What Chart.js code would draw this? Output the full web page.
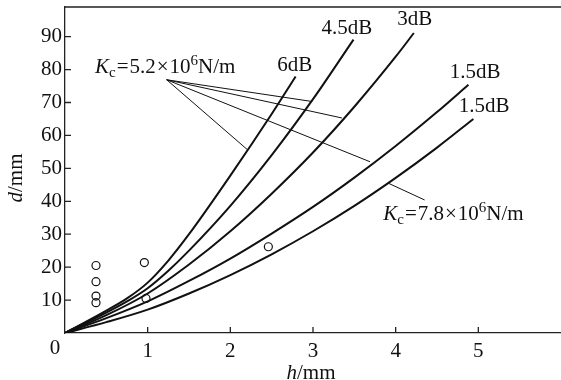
<!DOCTYPE html>
<html><head><meta charset="utf-8">
<script src="https://cdn.jsdelivr.net/npm/chart.js@4.4.1/dist/chart.umd.min.js"></script>
<style>html,body{margin:0;padding:0;background:#fff;}canvas{display:block;}</style>
</head><body>
<canvas id="c" width="561" height="380"></canvas>
<script>
const FONT = '"Liberation Serif", "Times New Roman", serif';

// ---- data (h in mm, d in mm) ----
const h6dB   = [0, 0.5, 0.75, 1, 1.25, 1.5, 2, 2.5, 2.79];
const d6dB   = [0, 6.8, 10.5, 15.3, 22.0, 30.0, 47.8, 66.5, 77.9];
const h45dB  = [0, 0.5, 0.75, 1, 1.25, 1.5, 2, 2.5, 3, 3.49];
const d45dB  = [0, 6.2, 9.6, 13.6, 18.9, 25.0, 38.6, 54.0, 71.0, 89.1];
const h3dB   = [0, 0.5, 1, 1.5, 2, 2.5, 3, 3.5, 4, 4.22];
const d3dB   = [0, 5.4, 12.0, 20.8, 30.9, 42.3, 54.8, 68.7, 83.9, 91.1];
const h15dBa = [0, 0.5, 1, 1.5, 2, 2.5, 3, 3.5, 4, 4.5, 4.88];
const d15dBa = [0, 4.5, 9.6, 15.8, 22.6, 30.2, 38.3, 47.2, 56.8, 67.1, 75.4];
const h15dBb = [0, 0.5, 1, 1.5, 2, 2.5, 3, 3.5, 4, 4.5, 4.94];
const d15dBb = [0, 3.3, 7.1, 12.0, 17.6, 23.9, 30.9, 38.6, 47.1, 56.3, 65.0];
const hMeas  = [0.375, 0.375, 0.375, 0.375, 0.96, 0.98, 2.46];
const dMeas  = [20.5, 15.6, 11.2, 9.2, 21.4, 10.5, 26.2];
const xTicks = [1, 2, 3, 4, 5];
const yTicks = [10, 20, 30, 40, 50, 60, 70, 80, 90];

// leader lines (data coordinates: from label anchor to curve)
const kc52From = {x: 1.23, y: 76.9};
const kc52To = [{x: 2.21, y: 55.6}, {x: 2.99, y: 70.3}, {x: 3.35, y: 65.3}, {x: 3.69, y: 52.0}];
const kc78From = {x: 4.35, y: 40.4};
const kc78To = {x: 3.91, y: 45.5};

const curveLabels = [
  {text: '6dB', x: 2.78, y: 81.2},
  {text: '4.5dB', x: 3.41, y: 92.4},
  {text: '3dB', x: 4.23, y: 95.1},
  {text: '1.5dB', x: 4.96, y: 79.0},
  {text: '1.5dB', x: 5.07, y: 68.7}
];
const kcLabels = [
  {val: '5.2', x: 0.363, y: 79.0},
  {val: '7.8', x: 3.85, y: 34.3}
];

const pts = (hs, ds) => hs.map((h, i) => ({x: h, y: ds[i]}));
const curve = (hs, ds) => ({data: pts(hs, ds), showLine: true, borderColor: '#111', borderWidth: 2,
  pointRadius: 0, cubicInterpolationMode: 'monotone', fill: false});
const leader = (a, b) => ({data: [a, b], showLine: true, borderColor: '#111', borderWidth: 1,
  pointRadius: 0, fill: false});

const datasets = [
  curve(h6dB, d6dB), curve(h45dB, d45dB), curve(h3dB, d3dB), curve(h15dBa, d15dBa), curve(h15dBb, d15dBb),
  ...kc52To.map(p => leader(kc52From, p)),
  leader(kc78From, kc78To),
  {data: pts(hMeas, dMeas), showLine: false, pointStyle: 'circle', pointRadius: 4, pointBorderWidth: 1.2,
   pointBorderColor: '#111', pointBackgroundColor: 'rgba(255,255,255,0)'}
];

function richWidth(ctx, segs) {
  let w = 0;
  for (const s of segs) { ctx.font = s.font; w += ctx.measureText(s.t).width + (s.gap || 0); }
  return w;
}
function drawRich(ctx, x, y, segs, align) {
  let cx = x;
  if (align === 'center') cx = x - richWidth(ctx, segs) / 2;
  ctx.textBaseline = 'alphabetic';
  ctx.textAlign = 'left';
  for (const s of segs) {
    ctx.font = s.font;
    ctx.fillText(s.t, cx, y + (s.dy || 0));
    cx += ctx.measureText(s.t).width + (s.gap || 0);
  }
}

const overlay = {
  id: 'overlay',
  afterDraw(chart) {
    const ctx = chart.ctx, xs = chart.scales.x, ys = chart.scales.y, a = chart.chartArea;
    ctx.save();
    ctx.strokeStyle = '#222';
    ctx.lineWidth = 1.3;
    ctx.beginPath();
    ctx.moveTo(a.left, a.top); ctx.lineTo(a.right, a.top);
    for (const v of xTicks) { const p = xs.getPixelForValue(v); ctx.moveTo(p, a.bottom); ctx.lineTo(p, a.bottom - 6); }
    for (const v of yTicks) { const p = ys.getPixelForValue(v); ctx.moveTo(a.left, p); ctx.lineTo(a.left + 6, p); }
    ctx.stroke();

    ctx.fillStyle = '#111';
    const N = '21px ' + FONT, I = 'italic 21px ' + FONT, S = '15px ' + FONT;
    // corner zero
    ctx.font = N; ctx.textAlign = 'center'; ctx.textBaseline = 'middle';
    ctx.fillText('0', a.left - 10, a.bottom + 15);
    // axis titles
    drawRich(ctx, 311, 379, [{t: 'h', font: I}, {t: '/mm', font: N}], 'center');
    ctx.save();
    ctx.translate(22, 178); ctx.rotate(-Math.PI / 2);
    drawRich(ctx, 0, 0, [{t: 'd', font: I}, {t: '/mm', font: N}], 'center');
    ctx.restore();
    // curve labels
    for (const l of curveLabels) {
      ctx.font = N; ctx.textAlign = 'center'; ctx.textBaseline = 'middle';
      ctx.fillText(l.text, xs.getPixelForValue(l.x), ys.getPixelForValue(l.y));
    }
    // Kc labels
    for (const k of kcLabels) {
      drawRich(ctx, xs.getPixelForValue(k.x), ys.getPixelForValue(k.y), [
        {t: 'K', font: I}, {t: 'c', font: S, dy: 4, gap: 1}, {t: '=', font: N, gap: 1}, {t: k.val, font: N, gap: 1},
        {t: '×', font: N, gap: 1}, {t: '10', font: N},
        {t: '6', font: S, dy: -8}, {t: 'N/m', font: N}], 'left');
    }
    ctx.restore();
  }
};

const noPad = ax => { ax.paddingTop = 0; ax.paddingBottom = 0; ax.paddingLeft = 0; ax.paddingRight = 0; };

new Chart(document.getElementById('c'), {
  type: 'scatter',
  data: {datasets},
  options: {
    responsive: false, animation: false, devicePixelRatio: 1,
    layout: {autoPadding: false, padding: {top: 7, right: 0, left: 0, bottom: 0}},
    plugins: {legend: {display: false}, tooltip: {enabled: false}},
    scales: {
      x: {type: 'linear', min: 0, max: 6,
        afterBuildTicks: ax => { ax.ticks = xTicks.map(v => ({value: v})); },
        afterFit: ax => { ax.height = 47; noPad(ax); },
        grid: {display: false, drawTicks: false},
        border: {display: true, color: '#222', width: 1.3},
        ticks: {color: '#111', padding: 6, font: {family: FONT, size: 21}}},
      y: {type: 'linear', min: 0, max: 99,
        afterBuildTicks: ax => { ax.ticks = yTicks.map(v => ({value: v})); },
        afterFit: ax => { ax.width = 65; noPad(ax); },
        grid: {display: false, drawTicks: false},
        border: {display: true, color: '#222', width: 1.3},
        ticks: {color: '#111', padding: 3, font: {family: FONT, size: 21}}}
    }
  },
  plugins: [overlay]
});
</script>
</body></html>
